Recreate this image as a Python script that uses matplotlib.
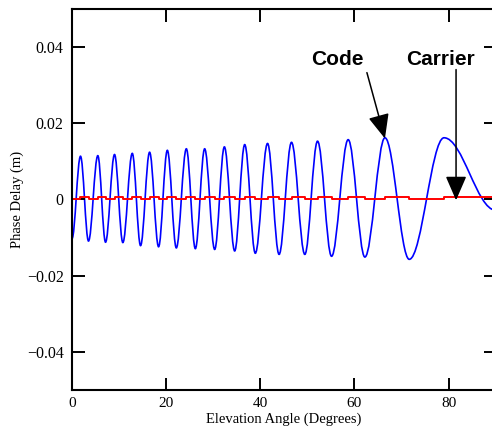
import matplotlib
matplotlib.use("Agg")
import matplotlib.pyplot as plt
from matplotlib.path import Path
from matplotlib.patches import PathPatch

# code multipath delay: turning points of the oscillation (peaks and troughs), plus the end value
code_angle = [0.0, 1.81, 3.51, 5.49, 7.13, 9.04, 10.81, 12.81, 14.57, 16.49, 18.40,
              20.26, 22.17, 24.30, 26.21, 28.19, 30.32, 32.38, 34.57, 36.70, 38.95,
              41.55, 44.0, 46.64, 49.47, 52.17, 55.15, 58.68, 62.23, 66.49, 71.66,
              79.04, 90.0]
code_delay = [-0.0103, 0.01135, -0.0109, 0.0115, -0.0112, 0.0118, -0.0113, 0.0121, -0.0121,
              0.0124, -0.0124, 0.0129, -0.0127, 0.0133, -0.0129, 0.0133, -0.0131, 0.0138,
              -0.0135, 0.0144, -0.0141, 0.0147, -0.0144, 0.0150, -0.0144, 0.0153, -0.0149,
              0.0157, -0.0151, 0.0162, -0.0157, 0.0162, -0.0028]

# carrier multipath, a small stepped error that flips at the code turning points
carrier_angle = [0.0, 1.81, 3.51, 5.49, 7.13, 9.04, 10.81, 12.81, 14.57, 16.49, 18.40,
                 20.26, 22.17, 24.30, 26.21, 28.19, 30.32, 32.38, 34.57, 36.70, 38.95,
                 41.55, 44.0, 46.64, 49.47, 52.17, 55.15, 58.68, 62.23, 66.49, 71.66,
                 79.04, 90.0]
carrier_delay = [0.0002, 0.0006, 0.0, 0.0006, 0.0, 0.0006, 0.0, 0.0006, 0.0, 0.0006, 0.0,
                 0.0006, 0.0, 0.0006, 0.0, 0.0006, 0.0, 0.0006, 0.0, 0.0006, 0.0,
                 0.0006, 0.0, 0.0006, 0.0, 0.0006, 0.0, 0.0006, 0.0, 0.0006, 0.0,
                 0.0006, 0.0006]

x_ticks = [0, 20, 40, 60, 80]
y_ticks = [-0.04, -0.02, 0, 0.02, 0.04]
y_tick_labels = ["\u22120.04", "\u22120.02", "0", "0.02", "0.04"]

plt.rcParams["font.family"] = ["Liberation Serif", "DejaVu Serif"]

fig = plt.figure(figsize=(4.92, 4.32), dpi=100)
ax = fig.add_axes([0.1463, 0.0972, 0.861, 0.882])


def wave_path(xs, ys, k=0.364):
    # smooth cubic segments between turning points, flat at each end
    verts = [(xs[0], ys[0])]
    codes = [Path.MOVETO]
    for x0, y0, x1, y1 in zip(xs[:-1], ys[:-1], xs[1:], ys[1:]):
        d = (x1 - x0) * k
        verts += [(x0 + d, y0), (x1 - d, y1), (x1, y1)]
        codes += [Path.CURVE4] * 3
    return Path(verts, codes)


ax.add_patch(PathPatch(wave_path(code_angle, code_delay), fill=False,
                       edgecolor="#0000ff", lw=1.2, transform=ax.transData))
ax.step(carrier_angle, carrier_delay, where="post", color="#ff0000", lw=1.4)

ax.set_xlim(0, 90)
ax.set_ylim(-0.05, 0.05)
ax.set_xticks(x_ticks)
ax.set_xticklabels([str(t) for t in x_ticks])
ax.set_yticks(y_ticks)
ax.set_yticklabels(y_tick_labels)
ax.tick_params(direction="in", length=9, width=1.4, labelsize=11.5,
               top=True, right=True, pad=6)
ax.tick_params(axis="x", labelsize=11, pad=5)
for sp in ax.spines.values():
    sp.set_linewidth(1.5)

ax.set_xlabel("Elevation Angle (Degrees)", fontsize=10.5)
ax.set_ylabel("Phase Delay (m)", fontsize=10.5)
ax.xaxis.set_label_coords(0.5, -0.058)
ax.yaxis.set_label_coords(-0.114, 0.5)

head = dict(arrowstyle="-|>,head_length=1.5,head_width=0.65", mutation_scale=10,
            color="black", lw=1.1, shrinkA=0, shrinkB=0)
ax.annotate("", xy=(66.49, 0.0160), xytext=(62.66, 0.0333), arrowprops=head)
ax.annotate("", xy=(81.6, -0.0002), xytext=(81.6, 0.0341), arrowprops=head)
ax.text(56.4, 0.0367, "Code", fontsize=15, fontweight="bold",
        family="Liberation Sans", ha="center", va="center")
ax.text(78.4, 0.0367, "Carrier", fontsize=15, fontweight="bold",
        family="Liberation Sans", ha="center", va="center")

fig.savefig("out.png", dpi=100)
